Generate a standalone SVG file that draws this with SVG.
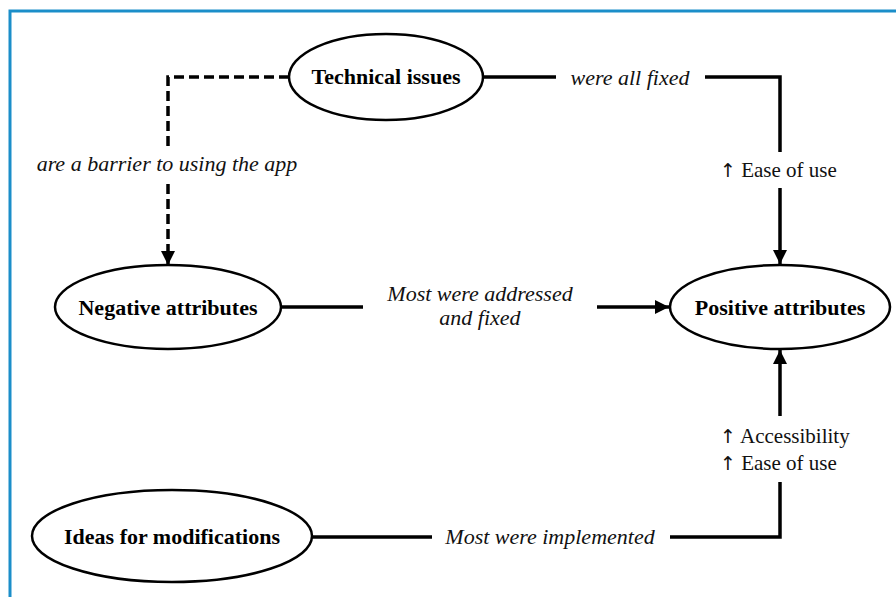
<svg xmlns="http://www.w3.org/2000/svg" width="896" height="597" viewBox="0 0 896 597">
<style>
.node ellipse{fill:#fff;stroke:#000;stroke-width:2.5}
.node text{font-family:"Liberation Serif","Times New Roman",serif;font-weight:bold;font-size:22px;text-anchor:middle;fill:#000}
.lbl{font-family:"Liberation Serif","Times New Roman",serif;font-style:italic;font-size:22px;fill:#111}
.lbl2{font-family:"Liberation Serif","Times New Roman",serif;font-size:21px;fill:#111}
.arr{font-family:"DejaVu Sans",sans-serif;font-size:19px;fill:#111}
.edge{fill:none;stroke:#000;stroke-width:3.5}
.dash{stroke-dasharray:10 5}
</style>
<defs>
<marker id="ah" viewBox="0 0 10 10" refX="10" refY="5" markerWidth="4" markerHeight="4" markerUnits="strokeWidth" orient="auto">
<path d="M0,0 L10,5 L0,10 z" fill="#000"/>
</marker>
</defs>
<rect width="896" height="597" fill="#fff"/>
<path d="M10,597 V11 H896" fill="none" stroke="#1b8ec9" stroke-width="3"/>
<g id="connectors">
<path class="edge dash" d="M289,77 H168 V150"/>
<path class="edge dash" d="M168,184 V265" marker-end="url(#ah)"/>
<path class="edge" d="M484,77 H556"/>
<path class="edge" d="M705,77 H780 V152"/>
<path class="edge" d="M780,188 V264" marker-end="url(#ah)"/>
<path class="edge" d="M281,307 H363"/>
<path class="edge" d="M597,307 H669" marker-end="url(#ah)"/>
<path class="edge" d="M311,537 H432"/>
<path class="edge" d="M670,537 H780 V482"/>
<path class="edge" d="M780,416 V350" marker-end="url(#ah)"/>
<text class="lbl" x="630" y="85" text-anchor="middle">were all fixed</text>
<text class="lbl" x="167" y="171" text-anchor="middle">are a barrier to using the app</text>
<text class="lbl2" x="720" y="177"><tspan class="arr">↑</tspan> Ease of use</text>
<text class="lbl" x="480" y="301" text-anchor="middle">Most were addressed</text>
<text class="lbl" x="480" y="325" text-anchor="middle">and fixed</text>
<text class="lbl2" x="720" y="443"><tspan class="arr">↑</tspan> Accessibility</text>
<text class="lbl2" x="720" y="470"><tspan class="arr">↑</tspan> Ease of use</text>
<text class="lbl" x="550" y="544" text-anchor="middle">Most were implemented</text>
</g>
<g id="technical-issues" class="node">
<ellipse cx="386" cy="77" rx="97" ry="43"/>
<text x="386" y="84">Technical issues</text>
</g>
<g id="negative-attributes" class="node">
<ellipse cx="168" cy="307" rx="113" ry="42"/>
<text x="168" y="315">Negative attributes</text>
</g>
<g id="positive-attributes" class="node">
<ellipse cx="780" cy="307" rx="110" ry="42"/>
<text x="780" y="315">Positive attributes</text>
</g>
<g id="ideas-for-modifications" class="node">
<ellipse cx="172" cy="536" rx="140" ry="46"/>
<text x="172" y="544">Ideas for modifications</text>
</g>
</svg>
